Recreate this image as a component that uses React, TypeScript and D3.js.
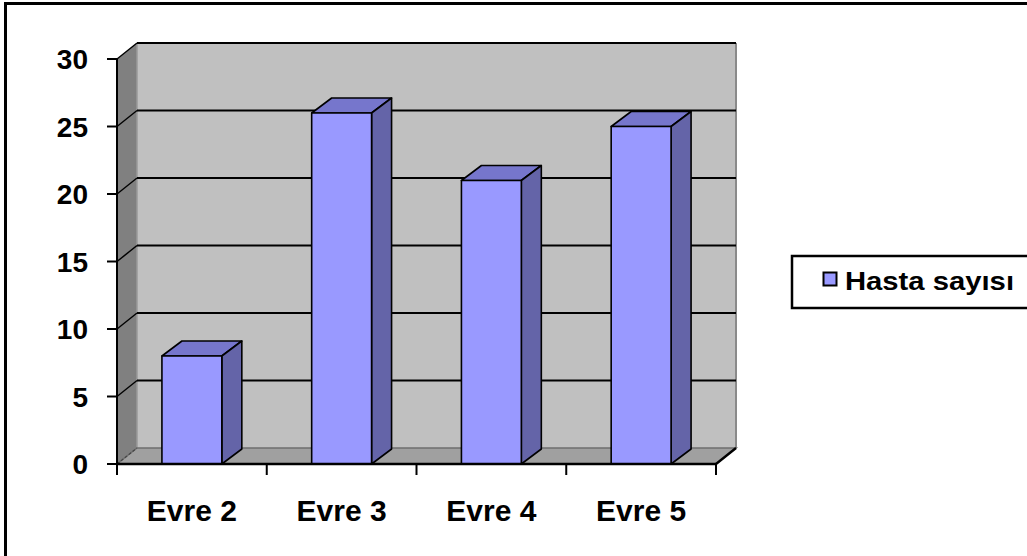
import React from "react";
import * as d3 from "d3";

// Chart data
const categories = ["Evre 2", "Evre 3", "Evre 4", "Evre 5"];
const values = [8, 26, 21, 25];
const yTicks = [0, 5, 10, 15, 20, 25, 30];
const seriesName = "Hasta sayısı";

const W = 1027;
const H = 556;

// front plane of the plot and the 3-D depth offset
const X0 = 117;
const X1 = 716;
const DX = 20;
const DY = -16;

const FONT = "'Liberation Sans', Arial, Helvetica, sans-serif";

export default function App() {
  const y = d3.scaleLinear().domain([0, 30]).range([464, 59]);
  const x = d3.scaleBand<string>().domain(categories).range([X0, X1]).paddingInner(0).paddingOuter(0);
  const bw = x.bandwidth() * 0.4;

  const yTop = y(30);
  const yBot = y(0);

  const pts = (arr: [number, number][]) => arr.map((p) => p.join(",")).join(" ");

  return (
    <svg
      width={W}
      height={H}
      style={{ position: "absolute", left: 0, top: 0, background: "#fff" }}
      fontFamily={FONT}
    >
      {/* outer frame (top and left edges visible) */}
      <line x1={5} y1={3.5} x2={W + 5} y2={3.5} stroke="#000" strokeWidth={3} />
      <line x1={5.5} y1={2} x2={5.5} y2={H + 5} stroke="#000" strokeWidth={3} />

      {/* back wall */}
      <rect x={X0 + DX} y={yTop + DY} width={X1 - X0} height={yBot - yTop} fill="#c0c0c0" />
      <line x1={X1 + DX} y1={yTop + DY} x2={X1 + DX} y2={yBot + DY} stroke="#8a8a8a" strokeWidth={2} />
      {/* left wall */}
      <polygon
        points={pts([
          [X0, yTop],
          [X0 + DX, yTop + DY],
          [X0 + DX, yBot + DY],
          [X0, yBot],
        ])}
        fill="#808080"
      />
      <line x1={X0 + DX} y1={yTop + DY} x2={X0 + DX} y2={yBot + DY} stroke="#9a9a9a" strokeWidth={1.5} />
      {/* floor */}
      <polygon
        points={pts([
          [X0, yBot],
          [X1, yBot],
          [X1 + DX, yBot + DY],
          [X0 + DX, yBot + DY],
        ])}
        fill="#a0a0a0"
        stroke="#6e6e6e"
        strokeWidth={1.5}
      />
      <line x1={X1} y1={yBot} x2={X1 + DX} y2={yBot + DY} stroke="#000" strokeWidth={2.5} />
      <line x1={X0} y1={yBot} x2={X0 + DX} y2={yBot + DY} stroke="#444" strokeWidth={1.2} strokeDasharray="3,2" />

      {/* gridlines on back and left walls */}
      {yTicks
        .filter((t) => t > 0)
        .map((t) => (
          <g key={`g${t}`}>
            <line x1={X0 + DX} y1={y(t) + DY} x2={X1 + DX} y2={y(t) + DY} stroke="#000" strokeWidth={2.2} />
            <line x1={X0} y1={y(t)} x2={X0 + DX} y2={y(t) + DY} stroke="#000" strokeWidth={1.5} />
          </g>
        ))}

      {/* bars */}
      {categories.map((c, i) => {
        const cx = (x(c) as number) + x.bandwidth() / 2;
        const l = cx - bw / 2;
        const r = cx + bw / 2;
        const t = y(values[i]);
        return (
          <g key={c} stroke="#000" strokeWidth={1.6} strokeLinejoin="round">
            <polygon
              points={pts([
                [l, t],
                [l + DX, t + DY + 1],
                [r + DX, t + DY + 1],
                [r, t],
              ])}
              fill="#7676cc"
            />
            <polygon
              points={pts([
                [r, t],
                [r + DX, t + DY + 1],
                [r + DX, yBot + DY + 1],
                [r, yBot],
              ])}
              fill="#6464a8"
            />
            <rect x={l} y={t} width={bw} height={yBot - t} fill="#9999ff" />
          </g>
        );
      })}

      {/* y axis */}
      <line x1={X0} y1={yTop} x2={X0} y2={yBot} stroke="#000" strokeWidth={2} />
      {yTicks.map((t) => (
        <g key={`y${t}`}>
          <line x1={X0 - 10} y1={y(t)} x2={X0} y2={y(t)} stroke="#000" strokeWidth={2} />
          <text x={88} y={y(t) + 10} textAnchor="end" fontSize={28} fontWeight="bold" fill="#000">
            {t}
          </text>
        </g>
      ))}

      {/* x axis */}
      <line x1={X0} y1={yBot} x2={X1} y2={yBot} stroke="#000" strokeWidth={2.5} />
      {[...categories.map((c) => x(c) as number), X1].map((px, i) => (
        <line key={`xt${i}`} x1={px} y1={yBot} x2={px} y2={yBot + 11} stroke="#000" strokeWidth={2} />
      ))}
      {categories.map((c) => (
        <text
          key={`xl${c}`}
          x={(x(c) as number) + x.bandwidth() / 2}
          y={521}
          textAnchor="middle"
          fontSize={30}
          fontWeight="bold"
          fill="#000"
        >
          {c}
        </text>
      ))}

      {/* legend */}
      <rect x={792} y={256} width={250} height={52} fill="#fff" stroke="#000" strokeWidth={2.5} />
      <rect x={823.5} y={272.5} width={13} height={13} fill="#9999ff" stroke="#000" strokeWidth={2} />
      <text
        x={845}
        y={290}
        fontSize={26}
        fontWeight="bold"
        fill="#000"
        textLength={169}
        lengthAdjust="spacingAndGlyphs"
      >
        {seriesName}
      </text>
    </svg>
  );
}
